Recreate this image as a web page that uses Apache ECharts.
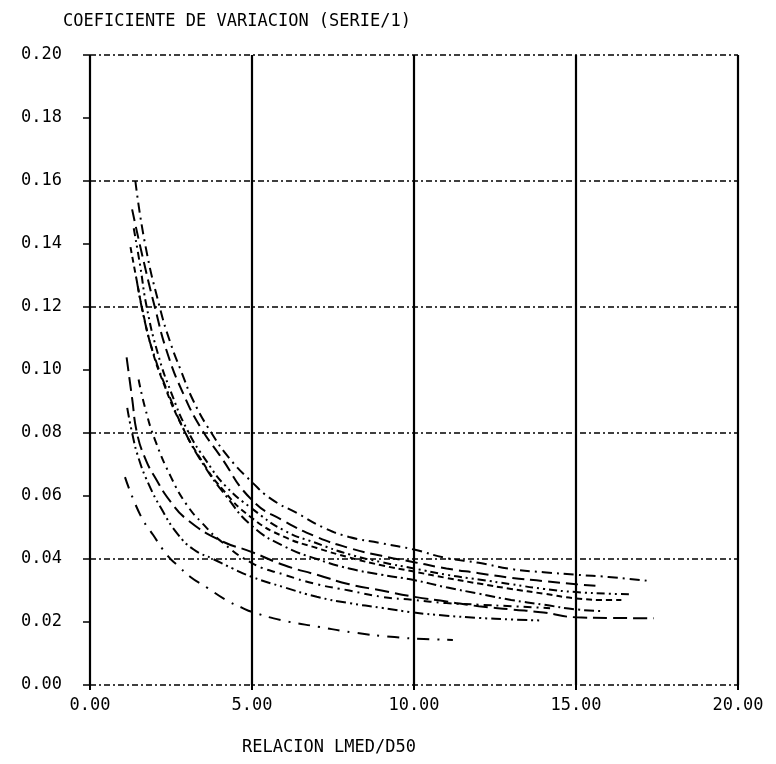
<!DOCTYPE html>
<html>
<head>
<meta charset="utf-8">
<script src="https://cdn.jsdelivr.net/npm/echarts@6/dist/echarts.min.js"></script>
<style>
html,body{margin:0;padding:0;background:#fff;}
#chart{width:776px;height:764px;}
</style>
</head>
<body>
<div id="chart"></div>
<script>
const chartTitle = 'COEFICIENTE DE VARIACION (SERIE/1)';
const xAxisTitle = 'RELACION LMED/D50';

const curveT1 = [[1.4,0.160],[1.7,0.140],[2.15,0.120],[2.47,0.109],[2.8,0.100],[3.2,0.090],[3.75,0.080],[4.3,0.072],[5.0,0.0644],[5.6,0.059],[6.4,0.0545],[7.2,0.050],[8.0,0.047],[9.0,0.045],[10.0,0.043],[11.0,0.0403],[12.0,0.0388],[13.0,0.0368],[14.0,0.0358],[15.0,0.035],[16.0,0.0343],[17.3,0.033]];
const curveT2 = [[1.3,0.151],[1.6,0.137],[2.0,0.120],[2.4,0.105],[2.9,0.092],[3.4,0.082],[4.0,0.073],[5.0,0.0587],[6.0,0.052],[7.0,0.047],[8.0,0.0435],[9.0,0.041],[10.0,0.039],[11.0,0.037],[12.0,0.0355],[13.0,0.034],[14.0,0.033],[15.0,0.032],[15.6,0.0315]];
const curveT3 = [[1.35,0.145],[1.55,0.133],[1.75,0.120],[2.1,0.105],[2.5,0.093],[3.0,0.081],[3.6,0.071],[4.2,0.063],[5.0,0.056],[6.0,0.049],[7.0,0.045],[8.0,0.0415],[9.0,0.039],[10.0,0.037],[11.0,0.035],[12.0,0.0335],[13.0,0.032],[14.0,0.0305],[15.0,0.0295],[16.0,0.029],[16.7,0.0288]];
const curveT4 = [[1.25,0.139],[1.45,0.128],[1.6,0.120],[1.9,0.107],[2.3,0.095],[2.8,0.083],[3.4,0.072],[4.1,0.062],[5.0,0.053],[6.0,0.047],[7.0,0.0435],[8.0,0.0405],[9.0,0.038],[10.0,0.036],[11.0,0.034],[12.0,0.0322],[13.0,0.0305],[14.0,0.029],[15.0,0.0275],[16.0,0.027],[16.4,0.027]];
const curveT5 = [[1.45,0.128],[1.7,0.115],[2.0,0.104],[2.4,0.093],[2.9,0.081],[3.5,0.070],[4.2,0.060],[5.0,0.0505],[6.0,0.044],[7.0,0.040],[8.0,0.037],[9.0,0.035],[10.0,0.0333],[11.0,0.031],[12.0,0.029],[13.0,0.027],[14.0,0.0255],[15.0,0.024],[15.8,0.0235]];
const curveL1 = [[1.13,0.104],[1.3,0.091],[1.45,0.080],[1.7,0.072],[2.0,0.066],[2.5,0.058],[3.0,0.0525],[4.0,0.046],[5.0,0.0422],[6.0,0.038],[7.0,0.035],[8.0,0.032],[9.0,0.030],[10.0,0.028],[11.0,0.0265],[12.0,0.025],[13.0,0.024],[14.0,0.023],[15.0,0.0215],[16.0,0.0213],[17.4,0.0212]];
const curveL2 = [[1.5,0.097],[1.7,0.088],[2.0,0.078],[2.5,0.066],[3.0,0.057],[3.5,0.051],[4.0,0.046],[5.0,0.0387],[6.0,0.035],[7.0,0.032],[8.0,0.030],[9.0,0.028],[10.0,0.027],[11.0,0.026],[12.0,0.0255],[13.0,0.025],[14.2,0.0244]];
const curveL3 = [[1.15,0.088],[1.3,0.080],[1.5,0.072],[1.8,0.064],[2.2,0.056],[2.7,0.048],[3.2,0.043],[3.8,0.040],[4.4,0.037],[5.0,0.0343],[6.0,0.031],[7.0,0.028],[8.0,0.026],[9.0,0.0245],[10.0,0.023],[11.0,0.022],[12.0,0.0213],[13.0,0.0208],[13.9,0.0205]];
const curveL4 = [[1.08,0.066],[1.55,0.054],[1.95,0.0476],[2.4,0.041],[2.7,0.038],[3.1,0.0343],[3.6,0.031],[4.2,0.027],[4.7,0.0245],[5.0,0.0232],[5.9,0.0206],[7.1,0.0184],[8.1,0.0167],[9.4,0.0152],[10.3,0.0146],[11.2,0.0143]];

const curves = [curveT1, curveT2, curveT3, curveT4, curveT5, curveL1, curveL2, curveL3, curveL4];
const dashes = [[10,5,2,5],[12,6],[8,4,2,4,2,4],[6,4],[10,4,2,4],[14,6],[8,5,2,5],[10,4,2,4,2,4],[12,8,2,8]];

const mono = 'DejaVu Sans Mono';
const chart = echarts.init(document.getElementById('chart'), null, {renderer:'canvas'});
chart.setOption({
  backgroundColor:'#ffffff',
  animation:false,
  title:{text:chartTitle,left:58,top:8,textStyle:{fontFamily:mono,fontSize:17,fontWeight:'normal',color:'#000'}},
  graphic:[{type:'text',left:242,top:739,style:{text:xAxisTitle,fontFamily:mono,fontSize:17,fill:'#000'}}],
  grid:{left:90,right:38,top:55,bottom:79,containLabel:false},
  xAxis:{type:'value',min:0,max:20,interval:5,
    axisLine:{show:false},
    axisTick:{show:true,length:5,lineStyle:{color:'#000',width:2}},
    axisLabel:{fontFamily:mono,fontSize:17,color:'#000',margin:12,formatter:v=>v.toFixed(2)},
    splitLine:{show:true,lineStyle:{color:'#000',width:2.2,type:'solid'}}},
  yAxis:[{type:'value',min:0,max:0.2,interval:0.02,
    axisLine:{show:false},
    axisTick:{show:true,length:7,lineStyle:{color:'#000',width:1.5}},
    axisLabel:{fontFamily:mono,fontSize:17,color:'#000',margin:28,formatter:v=>v.toFixed(2)},
    splitLine:{show:false}},
   {type:'value',min:0,max:0.2,interval:0.04,position:'left',
    axisLine:{show:false},axisTick:{show:false},axisLabel:{show:false},
    splitLine:{show:true,lineStyle:{color:'#000',width:1.5,type:[6,3,2,3]}}}],
  series:curves.map((c,i)=>({type:'line',data:c,yAxisIndex:0,smooth:true,symbol:'none',
    lineStyle:{color:'#000',width:2,type:dashes[i]}}))
});
</script>
</body>
</html>
